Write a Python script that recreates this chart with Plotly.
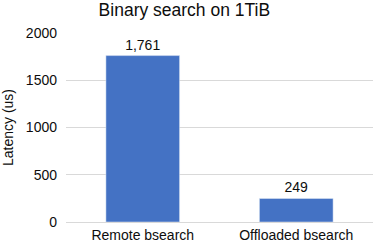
import plotly.graph_objects as go

categories = ["Remote bsearch", "Offloaded bsearch"]
latency = [1761, 249]
labels = ["1,761", "249"]

fig = go.Figure(go.Bar(
    x=categories, y=latency, text=labels, textposition="outside",
    marker_color="#4472C4", width=0.48,
    textfont=dict(size=14, color="#0d0d0d"), cliponaxis=False,
))
fig.update_layout(
    width=374, height=247,
    margin=dict(l=66, r=1, t=33, b=25),
    paper_bgcolor="white", plot_bgcolor="white",
    font=dict(family="Liberation Sans, Arial", size=14, color="#0d0d0d"),
    title=dict(text="Binary search on 1TiB", x=0.493, xanchor="center", y=0.962, yanchor="middle",
               font=dict(size=17.5, color="#0d0d0d")),
    showlegend=False,
    bargap=0.52,
)
fig.update_yaxes(range=[0, 2000], tickvals=[0, 500, 1000, 1500, 2000], showgrid=True,
                 gridcolor="#d9d9d9", gridwidth=1, zeroline=False, showline=False,
                 ticks="", ticklabelstandoff=8,
                 title=dict(text="Latency (us)", standoff=10, font=dict(size=14)))
fig.update_xaxes(showline=True, linecolor="#d9d9d9", ticks="", showgrid=False)
fig.write_html("out.html", config={"displayModeBar": False},
               post_script="document.body.style.margin='0';")
